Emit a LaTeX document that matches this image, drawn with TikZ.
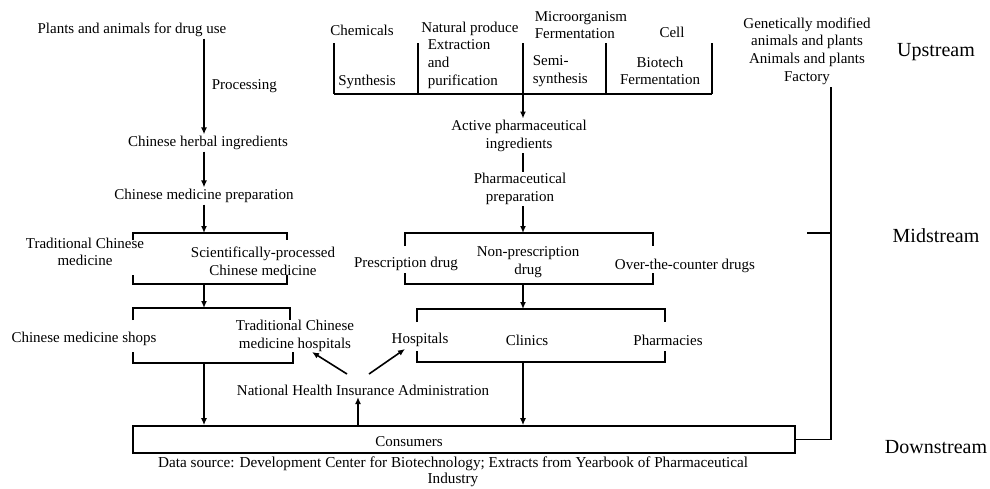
\documentclass[tikz,border=0pt]{standalone}
\usepackage{fontspec}
\setmainfont{Liberation Serif}
\usetikzlibrary{arrows.meta}

\begin{document}
\begin{tikzpicture}[x=1pt,y=-1pt,line width=1.6pt,
  every node/.style={font=\fontsize{15}{17.7}\selectfont,align=center,inner sep=1pt},
  flow/.style={-{Latex[length=7pt,width=6pt]}},
  stage/.style={font=\fontsize{20}{24}\selectfont},
  note/.style={font=\fontsize{15.2}{15.5}\selectfont}]
\useasboundingbox (0,0) rectangle (990,488);

% upstream sources
\node (plants) at (132,30) {Plants and animals for drug use};
\node (chem) at (362,30) {Chemicals};
\node (natural) at (470,29) {Natural produce};
\node[align=left,anchor=west] (micro) at (533,25) {Microorganism\\Fermentation};
\node (cell) at (672,32) {Cell};
\node (synth) at (367,82) {Synthesis};
\node[align=left,anchor=west] (extract) at (426,64) {Extraction\\and\\purification};
\node[align=left,anchor=west] (semi) at (531,71) {Semi-\\synthesis};
\node (biotech) at (660,71) {Biotech\\Fermentation};
\node (gm) at (807,51) {Genetically modified\\animals and plants\\Animals and plants\\Factory};
\foreach \x in {334,418,523,606,712} \draw (\x,43) -- (\x,94);
\draw (334,94) -- (712,94);
\coordinate (fb) at (523,94);

% chinese medicine branch
\node (herbal) at (208,143) {Chinese herbal ingredients};
\node (cmprep) at (204,196) {Chinese medicine preparation};
\node (tcm) at (85,252) {Traditional Chinese\\medicine};
\node (scp) at (263,261) {Scientifically-processed\\Chinese medicine};
\node (shops) at (84,339) {Chinese medicine shops};
\node (tcmhosp) at (295,336) {Traditional Chinese\\medicine hospitals};

\draw[flow] (plants.south -| cmprep) -- (herbal.north -| cmprep) node[pos=0.5,right=6pt] {Processing};
\draw[flow] (herbal.south -| cmprep) -- (cmprep);
\coordinate (l1) at (204,233);
\coordinate (l2) at (204,284);
\coordinate (l3) at (204,308);
\coordinate (l4) at (204,363);
\draw[flow] (cmprep) -- (l1);
\draw (133,240) -- (133,233) -- (287,233) -- (287,240);
\draw (133,275) -- (133,284) -- (287,284) -- (287,275);
\draw[flow] (l2) -- (l3);
\draw (133,320) -- (133,308) -- (290,308) -- (290,320);
\draw (133,352) -- (133,363) -- (293,363) -- (293,352);

% western medicine branch
\node (api) at (519,136) {Active pharmaceutical\\ingredients};
\node (pharmprep) at (520,189) {Pharmaceutical\\preparation};
\node (rx) at (406,264) {Prescription drug};
\node (nonrx) at (528,262) {Non-prescription\\drug};
\node (otc) at (685,266) {Over-the-counter drugs};
\node (hosp) at (420,340) {Hospitals};
\node (clinic) at (527,340) {Clinics};
\node (pharm) at (668,340) {Pharmacies};

\draw[flow] (fb) -- (fb |- api.north);
\draw (api.south -| fb) -- (pharmprep.north -| fb);
\coordinate (m1) at (523,233);
\coordinate (m2) at (523,284);
\coordinate (m3) at (523,309);
\coordinate (m4) at (523,362);
\draw[flow] (pharmprep.south -| m1) -- (m1);
\draw (405,246) -- (405,233) -- (653,233) -- (653,246);
\draw (405,273) -- (405,284) -- (653,284) -- (653,273);
\draw[flow] (m2) -- (m3);
\draw (417,322) -- (417,309) -- (665,309) -- (665,322);
\draw (417,351) -- (417,362) -- (665,362) -- (665,351);

% downstream
\node[draw,minimum width=662pt,minimum height=27pt] (consbox) at (464,439.5) {};
\node (cons) at (409,442) {Consumers};
\node (nhi) at (363,390) {National Health Insurance Administration};
\draw[flow] (l4) -- (l4 |- consbox.north);
\draw[flow] (m4) -- (m4 |- consbox.north);
\coordinate (nl) at (347,374);
\coordinate (nr) at (369,374);
\coordinate (th) at (312,352);
\coordinate (hh) at (405,349);
\draw[flow] (nl) -- (th);
\draw[flow] (nr) -- (hh);
\coordinate (up) at (358,426);
\draw[flow] (up) -- (up |- nhi.south);

% stage bracket
\coordinate (gmb) at (831,87);
\coordinate (mt) at (831,233);
\draw (gmb) -- (gmb |- consbox.east) -- (consbox.east);
\draw (mt) -- ++(-24,0);
\node[stage] (upstream) at (936,52) {Upstream};
\node[stage] (midstream) at (936,236) {Midstream};
\node[stage] (downstream) at (936,447) {Downstream};

\node[note] (source) at (453,472) {Data source: Development Center for Biotechnology; Extracts from Yearbook of Pharmaceutical\\Industry};
\end{tikzpicture}
\end{document}
